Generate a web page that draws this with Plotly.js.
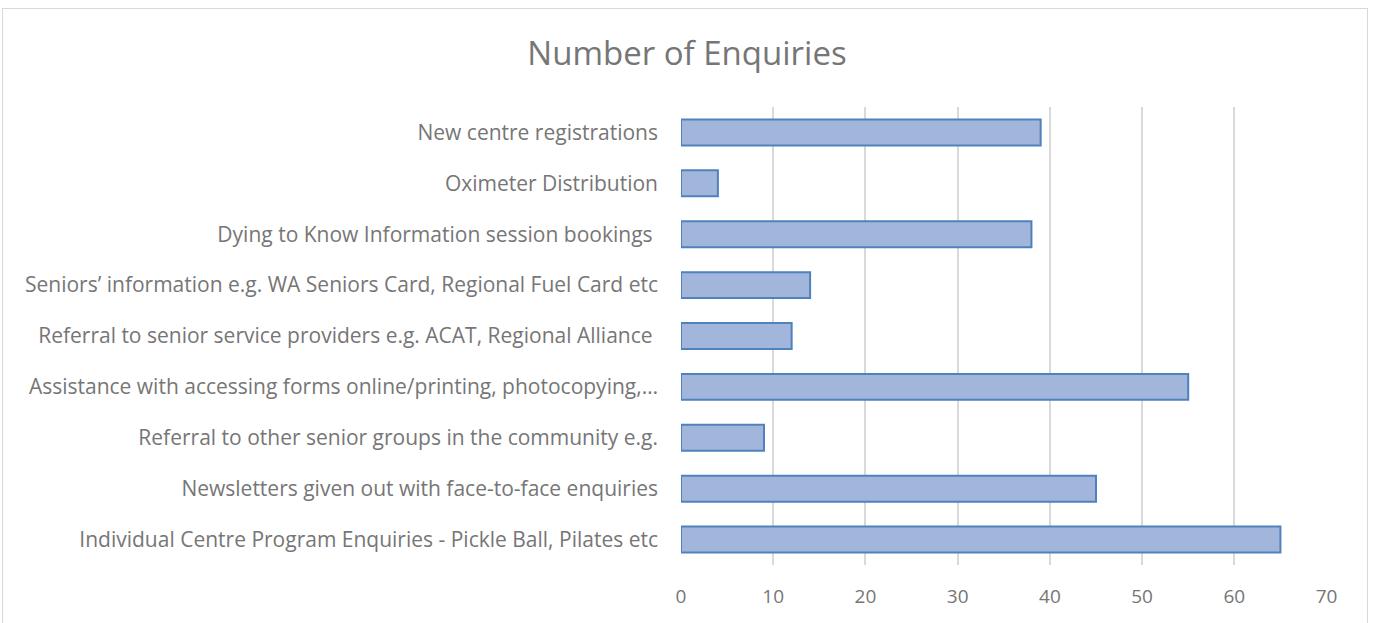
<!DOCTYPE html>
<html>
<head>
<meta charset="utf-8">
<script src="https://cdn.plot.ly/plotly-3.0.1.min.js"></script>
<style>
html,body{margin:0;padding:0;background:#fff;}
#frame{position:absolute;left:2px;top:8px;width:1366px;height:640px;border:1px solid #d9d9d9;box-sizing:border-box;pointer-events:none;z-index:5;}
#chart{width:1374px;height:623px;}
</style>
</head>
<body>
<div id="frame"></div>
<div id="chart"></div>
<script>
const categories = [
  "New centre registrations",
  "Oximeter Distribution",
  "Dying to Know Information session bookings\u00a0",
  "Seniors\u2019 information e.g. WA Seniors Card, Regional Fuel Card etc",
  "Referral to senior service providers e.g. ACAT, Regional Alliance\u00a0",
  "Assistance with accessing forms online/printing, photocopying,\u2026",
  "Referral to other senior groups in the community e.g.",
  "Newsletters given out with face-to-face enquiries",
  "Individual Centre Program Enquiries - Pickle Ball, Pilates etc"
];
const enquiries = [39, 4, 38, 14, 12, 55, 9, 45, 65];
const xTicks = [0, 10, 20, 30, 40, 50, 60, 70];

const font = "Open Sans, Liberation Sans, sans-serif";
Plotly.newPlot('chart', [{
  type: 'bar',
  orientation: 'h',
  y: categories,
  x: enquiries,
  marker: {color: '#A2B6DB', line: {color: '#4F81BD', width: 2}},
  hoverinfo: 'x+y'
}], {
  width: 1374, height: 623,
  margin: {l: 681, r: 47, t: 107, b: 58, pad: 0},
  paper_bgcolor: '#fff', plot_bgcolor: '#fff',
  bargap: 0.49,
  title: {text: 'Number of Enquiries', x: 0.5, xanchor: 'center', y: 0.915, yanchor: 'middle',
          font: {family: font, size: 33, color: '#767676'}},
  xaxis: {range: [0, 70.05], tickvals: xTicks, ticktext: xTicks.map(String),
          showgrid: true, gridcolor: '#D9D9D9', gridwidth: 1.5, zeroline: false,
          showline: false, ticks: '', ticklabelstandoff: 18,
          tickfont: {family: font, size: 19, color: '#767676'}},
  yaxis: {type: 'category', autorange: 'reversed', showgrid: false, zeroline: false,
          showline: false, ticks: '', ticklabelstandoff: 22,
          tickfont: {family: font, size: 21, color: '#767676'}},
  showlegend: false
}, {displayModeBar: false});
</script>
</body>
</html>
